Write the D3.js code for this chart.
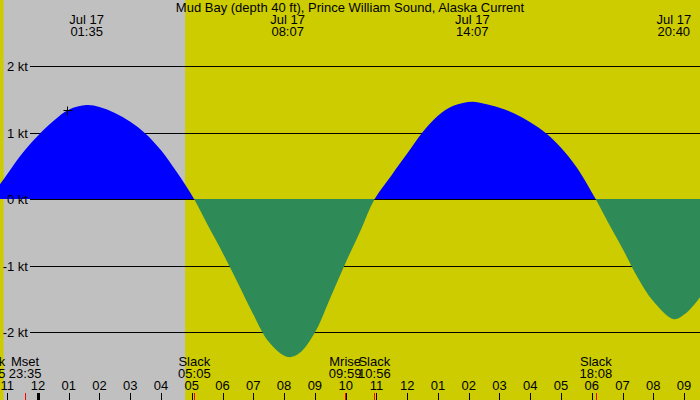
<!DOCTYPE html>
<html><head><meta charset="utf-8">
<script src="https://cdn.jsdelivr.net/npm/d3@7"></script>
<style>
body{margin:0;background:#fff}
svg{display:block}
text{font-family:"Liberation Sans",Arial,sans-serif;fill:#000}
</style></head>
<body>
<svg id="chart" width="700" height="400"></svg>
<script>
const title = "Mud Bay (depth 40 ft), Prince William Sound, Alaska Current";
const domainTimes = ["2024-07-16 22:46", "2024-07-17 21:31"];
const nightStart = "2024-07-16 22:53";
const nightEnd = "2024-07-17 04:47";
const curveTimes = [
 "2024-07-16 22:25","2024-07-16 23:00","2024-07-16 23:30",
 "2024-07-17 00:00","2024-07-17 00:30","2024-07-17 01:00","2024-07-17 01:35",
 "2024-07-17 02:00","2024-07-17 02:30","2024-07-17 03:00","2024-07-17 03:30","2024-07-17 04:00",
 "2024-07-17 04:30","2024-07-17 05:05","2024-07-17 05:30","2024-07-17 06:00",
 "2024-07-17 06:30","2024-07-17 07:00","2024-07-17 07:30","2024-07-17 08:07",
 "2024-07-17 08:30","2024-07-17 09:00","2024-07-17 09:30","2024-07-17 10:00","2024-07-17 10:30",
 "2024-07-17 10:56","2024-07-17 11:30","2024-07-17 12:00","2024-07-17 12:30",
 "2024-07-17 13:00","2024-07-17 13:30","2024-07-17 14:07","2024-07-17 14:30",
 "2024-07-17 15:00","2024-07-17 15:30","2024-07-17 16:00","2024-07-17 16:30","2024-07-17 17:00",
 "2024-07-17 17:30","2024-07-17 18:08","2024-07-17 18:30","2024-07-17 19:00",
 "2024-07-17 19:30","2024-07-17 20:00","2024-07-17 20:40","2024-07-17 21:00",
 "2024-07-17 21:30","2024-07-17 22:00"
];
const curveValues = [
 0, 0.38, 0.70,
 0.96, 1.18, 1.35, 1.42,
 1.39, 1.30, 1.17, 0.99, 0.74,
 0.42, 0, -0.37, -0.80,
 -1.26, -1.73, -2.14, -2.37,
 -2.31, -2.00, -1.48, -0.95, -0.45,
 0, 0.37, 0.69, 1.01,
 1.26, 1.41, 1.47, 1.44,
 1.38, 1.29, 1.16, 1.00, 0.78,
 0.49, 0, -0.32, -0.74,
 -1.18, -1.53, -1.80, -1.73,
 -1.48, -1.10
];
const extremeTimes = ["2024-07-17 01:35","2024-07-17 08:07","2024-07-17 14:07","2024-07-17 20:40"];
const extremeDay = ["Jul 17","Jul 17","Jul 17","Jul 17"];
const extremeClock = ["01:35","08:07","14:07","20:40"];
const eventTimes = ["2024-07-16 22:25","2024-07-16 23:35","2024-07-17 05:05","2024-07-17 09:59","2024-07-17 10:56","2024-07-17 18:08"];
const eventNames = ["Slack","Mset","Slack","Mrise","Slack","Slack"];
const eventClock = ["22:25","23:35","05:05","09:59","10:56","18:08"];
const yTicks = [2, 1, 0, -1, -2];
const yTickLabels = ["2 kt","1 kt","0 kt","-1 kt","-2 kt"];
const markerTime = "2024-07-17 00:56";
const markerValue = 1.34;

const parse = d3.timeParse("%Y-%m-%d %H:%M");
const svg = d3.select("#chart");
const W = 700, H = 400;
const FS = 13;
const x = d3.scaleTime().domain(domainTimes.map(parse)).range([0, W]);
const y = d3.scaleLinear().domain([-2, 2]).range([332.5, 66.5]);
const data = curveTimes.map((t, i) => ({t: parse(t), v: curveValues[i]}));

// background: day / night
svg.append("rect").attr("x", 0).attr("y", 0).attr("width", W).attr("height", H).attr("fill", "#cccc00");
svg.append("rect").attr("x", x(parse(nightStart))).attr("y", 0)
  .attr("width", x(parse(nightEnd)) - x(parse(nightStart))).attr("height", H).attr("fill", "#c0c0c0");

// grid lines
const y0 = Math.floor(y(0));
svg.selectAll("line.grid").data(yTicks).join("line").attr("class", "grid")
  .attr("x1", 30).attr("x2", W)
  .attr("y1", d => Math.floor(y(d)) + 0.5).attr("y2", d => Math.floor(y(d)) + 0.5)
  .attr("stroke", "#000").attr("stroke-width", 1);

// fills
const defs = svg.append("defs");
defs.append("clipPath").attr("id", "pos").append("rect").attr("x", 0).attr("y", 0).attr("width", W).attr("height", y0);
defs.append("clipPath").attr("id", "neg").append("rect").attr("x", 0).attr("y", y0).attr("width", W).attr("height", H - y0);
const area = d3.area().x(d => x(d.t)).y0(y0).y1(d => y(d.v)).curve(d3.curveCatmullRom.alpha(0.5));
svg.append("path").datum(data).attr("d", area).attr("fill", "#0000ff").attr("clip-path", "url(#pos)");
svg.append("path").datum(data).attr("d", area).attr("fill", "#2e8b57").attr("clip-path", "url(#neg)");

// y labels
svg.selectAll("text.ylab").data(yTicks).join("text").attr("class", "ylab")
  .attr("x", 28).attr("y", d => y(d) + 4.5).attr("text-anchor", "end")
  .attr("font-size", FS).text((d, i) => yTickLabels[i]);

// marker
const mx = Math.round(x(parse(markerTime))) + 0.5, my = Math.round(y(markerValue)) + 0.5;
svg.append("path").attr("d", `M${mx - 4},${my}H${mx + 5}M${mx},${my - 4}V${my + 5}`)
  .attr("stroke", "#000").attr("stroke-width", 1);

// title
svg.append("text").attr("x", 350).attr("y", 12).attr("text-anchor", "middle")
  .attr("font-size", FS).text(title);

// extremes labels on top
const extG = svg.selectAll("g.ext").data(extremeTimes).join("g").attr("class", "ext");
extG.append("text").attr("x", d => x(parse(d))).attr("y", 24).attr("text-anchor", "middle")
  .attr("font-size", FS).text((d, i) => extremeDay[i]);
extG.append("text").attr("x", d => x(parse(d))).attr("y", 36).attr("text-anchor", "middle")
  .attr("font-size", FS).text((d, i) => extremeClock[i]);

// event labels at bottom
const evG = svg.selectAll("g.ev").data(eventTimes).join("g").attr("class", "ev");
evG.append("text").attr("x", d => x(parse(d))).attr("y", 366).attr("text-anchor", "middle")
  .attr("font-size", FS).text((d, i) => eventNames[i]);
evG.append("text").attr("x", d => x(parse(d))).attr("y", 378).attr("text-anchor", "middle")
  .attr("font-size", FS).text((d, i) => eventClock[i]);

// hour axis
const hours = x.ticks(d3.timeHour.every(1));
const fmt = d3.timeFormat("%I");
svg.selectAll("text.hr").data(hours).join("text").attr("class", "hr")
  .attr("x", d => x(d)).attr("y", 390).attr("text-anchor", "middle")
  .attr("font-size", FS).text(d => fmt(d));
svg.selectAll("line.evtick").data(eventTimes).join("line").attr("class", "evtick")
  .attr("x1", d => Math.round(x(parse(d))) + 0.5).attr("x2", d => Math.round(x(parse(d))) + 0.5)
  .attr("y1", 393).attr("y2", 400).attr("stroke", "#ff0000").attr("stroke-width", 1);
svg.selectAll("line.hrtick").data(hours).join("line").attr("class", "hrtick")
  .attr("x1", d => Math.round(x(d)) + 0.5).attr("x2", d => Math.round(x(d)) + 0.5)
  .attr("y1", 393).attr("y2", 400).attr("stroke", "#000")
  .attr("stroke-width", d => d.getHours() === 0 ? 3 : 1);
</script>
</body></html>
